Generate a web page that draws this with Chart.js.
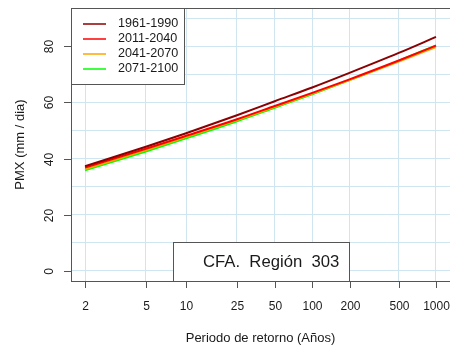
<!DOCTYPE html>
<html>
<head>
<meta charset="utf-8">
<script src="https://cdn.jsdelivr.net/npm/chart.js@4/dist/chart.umd.min.js"></script>
<style>
  html, body { margin: 0; padding: 0; background: #ffffff; }
  #wrap { width: 450px; height: 348px; }
</style>
</head>
<body>
<div id="wrap"><canvas id="c" width="450" height="348"></canvas></div>
<script>
// Return periods (years) and PMX quantiles (mm/dia) per climate period
const returnPeriods = [2, 5, 10, 25, 50, 100, 200, 500, 1000];
const pmx1961_1990 = [37.3, 44.2, 49.0, 55.4, 60.4, 65.3, 70.5, 77.6, 83.3];
const pmx2011_2040 = [36.8, 43.5, 48.1, 54.0, 58.7, 63.4, 68.2, 74.9, 80.2];
const pmx2041_2070 = [36.3, 43.0, 47.7, 53.7, 58.4, 63.1, 67.9, 74.5, 79.7];
const pmx2071_2100 = [35.8, 42.5, 47.2, 53.3, 58.1, 62.9, 67.9, 74.8, 80.3];

const seriesNames  = ['1961-1990', '2011-2040', '2041-2070', '2071-2100'];
const seriesColors = ['#8b0000', '#ff0000', '#ffa500', '#00ff00'];

const xTickPeriods = [2, 5, 10, 25, 50, 100, 200, 500, 1000];
const yTickLabels  = [0, 20, 40, 60, 80];
const yGridValues  = [0, 10, 20, 30, 40, 50, 60, 70, 80, 90];

const boxTitle = 'CFA.  Región  303';
const xTitle = 'Periodo de retorno (Años)';
const yTitle = 'PMX (mm / dia)';

// Gumbel reduced variate used as the horizontal axis
const gumbel = T => -Math.log(-Math.log(1 - 1 / T));

const allSeries = [pmx1961_1990, pmx2011_2040, pmx2041_2070, pmx2071_2100];
const datasets = allSeries.map((vals, i) => ({
  label: seriesNames[i],
  data: returnPeriods.map((T, j) => ({ x: gumbel(T), y: vals[j] })),
  borderColor: seriesColors[i],
  backgroundColor: seriesColors[i],
  borderWidth: 2,
  pointRadius: 0,
  cubicInterpolationMode: 'monotone',
  fill: false
}));

const gMin = gumbel(returnPeriods[0]);
const gMax = gumbel(returnPeriods[returnPeriods.length - 1]);
const gExt = 0.04 * (gMax - gMin);

const FONT = '"Liberation Sans", Arial, sans-serif';
const INK = '#1a1a1a';
const AXIS = '#555555';

const decorations = {
  id: 'decorations',
  afterDatasetsDraw(chart) {
    const ctx = chart.ctx;
    const area = chart.chartArea;
    const xs = chart.scales.x, ys = chart.scales.y;
    ctx.save();

    // plot frame
    ctx.strokeStyle = AXIS;
    ctx.lineWidth = 1;
    ctx.strokeRect(area.left + 0.5, area.top + 0.5, area.right - area.left, area.bottom - area.top);

    // x ticks and labels
    ctx.fillStyle = INK;
    ctx.font = '12px ' + FONT;
    ctx.textAlign = 'center';
    ctx.textBaseline = 'middle';
    xTickPeriods.forEach(T => {
      const px = Math.round(xs.getPixelForValue(gumbel(T))) + 0.5;
      ctx.beginPath();
      ctx.moveTo(px, area.bottom);
      ctx.lineTo(px, area.bottom + 7);
      ctx.stroke();
      ctx.fillText(String(T), px, area.bottom + 26);
    });

    // y ticks and rotated labels
    yTickLabels.forEach(v => {
      const py = Math.round(ys.getPixelForValue(v)) + 0.5;
      ctx.beginPath();
      ctx.moveTo(area.left, py);
      ctx.lineTo(area.left - 7, py);
      ctx.stroke();
      ctx.save();
      ctx.translate(area.left - 21, py);
      ctx.rotate(-Math.PI / 2);
      ctx.fillText(String(v), 0, 0);
      ctx.restore();
    });

    // axis titles
    ctx.font = '13px ' + FONT;
    ctx.fillText(xTitle, (area.left + area.right) / 2, 338);
    ctx.save();
    ctx.translate(20, (area.top + area.bottom) / 2);
    ctx.rotate(-Math.PI / 2);
    ctx.fillText(yTitle, 0, 0);
    ctx.restore();

    // legend
    const lgX = area.left, lgY = area.top, lgW = 113, lgH = 76;
    ctx.fillStyle = '#ffffff';
    ctx.fillRect(lgX, lgY, lgW, lgH);
    ctx.strokeStyle = AXIS;
    ctx.strokeRect(lgX + 0.5, lgY + 0.5, lgW, lgH);
    ctx.textAlign = 'left';
    ctx.font = '12.6px ' + FONT;
    seriesNames.forEach((name, i) => {
      const ry = lgY + 16 + i * 15;
      ctx.strokeStyle = seriesColors[i];
      ctx.lineWidth = 1.5;
      ctx.beginPath();
      ctx.moveTo(lgX + 12, ry);
      ctx.lineTo(lgX + 35, ry);
      ctx.stroke();
      ctx.fillStyle = INK;
      ctx.fillText(name, lgX + 47, ry);
    });

    // region label box
    const bx = 173, by = 242, bw = 176;
    ctx.fillStyle = '#ffffff';
    ctx.fillRect(bx, by, bw, area.bottom - by);
    ctx.strokeStyle = AXIS;
    ctx.lineWidth = 1;
    ctx.strokeRect(bx + 0.5, by + 0.5, bw, area.bottom - by);
    ctx.fillStyle = INK;
    ctx.font = '16.7px ' + FONT;
    ctx.fillText(boxTitle, 203, 262);

    ctx.restore();
  }
};

new Chart(document.getElementById('c'), {
  type: 'line',
  data: { datasets },
  options: {
    responsive: false,
    devicePixelRatio: 1,
    animation: false,
    layout: { padding: { left: 71, top: 8, right: 0, bottom: 67 } },
    plugins: { legend: { display: false }, tooltip: { enabled: false } },
    scales: {
      x: {
        type: 'linear',
        min: gMin - gExt,
        max: gMax + gExt,
        afterBuildTicks: s => { s.ticks = xTickPeriods.map(T => ({ value: gumbel(T) })); },
        ticks: { display: false },
        grid: { color: '#cfe6f0', lineWidth: 1, drawTicks: false },
        border: { display: false }
      },
      y: {
        type: 'linear',
        min: -3.6,
        max: 93.6,
        afterBuildTicks: s => { s.ticks = yGridValues.map(v => ({ value: v })); },
        ticks: { display: false },
        grid: { color: '#cfe6f0', lineWidth: 1, drawTicks: false },
        border: { display: false }
      }
    }
  },
  plugins: [decorations]
});
</script>
</body>
</html>
